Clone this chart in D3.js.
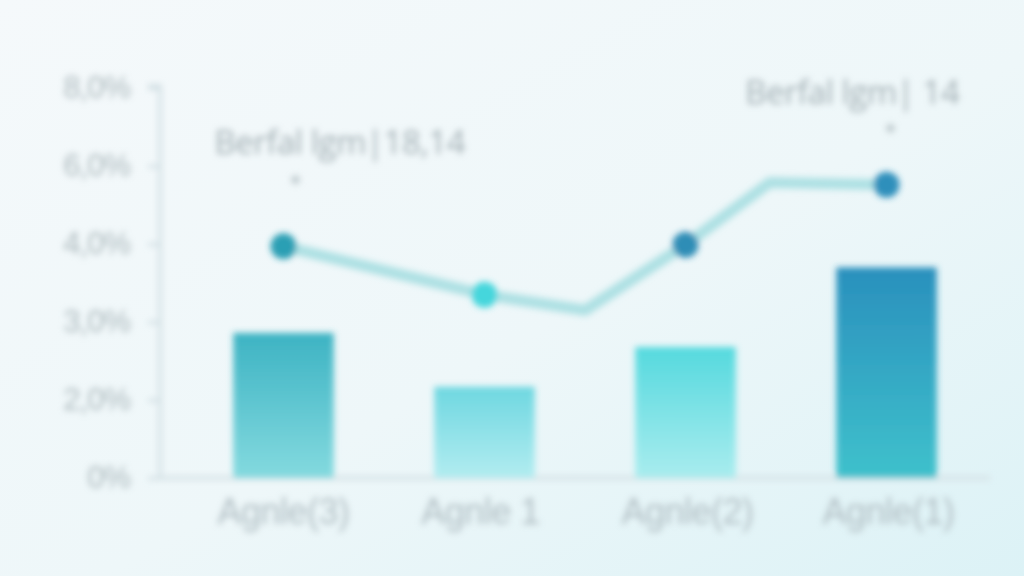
<!DOCTYPE html>
<html>
<head>
<meta charset="utf-8">
<script src="https://cdn.jsdelivr.net/npm/d3@7"></script>
<style>
  html, body { margin: 0; padding: 0; }
  body { width: 1024px; height: 576px; overflow: hidden; }
  svg { display: block; font-family: "Open Sans", "DejaVu Sans", sans-serif; }
</style>
</head>
<body>
<svg id="chart" width="1024" height="576"></svg>
<script>
// Categories and values (values in tick steps)
const categories = ['Agnle(3)', 'Agnle 1', 'Agnle(2)', 'Agnle(1)']
const barValues = [1.86, 1.17, 1.68, 2.7]
const tickLabels = ['0%', '2,0%', '3,0%', '4,0%', '6,0%', '8,0%']

// Line path: position along categories (index) and value
const linePos = [0, 1, 1.5, 2, 2.42, 3]
const lineValues = [2.97, 2.35, 2.15, 2.99, 3.79, 3.76]
const markerIdx = [0, 1, 3, 5]
const markerColors = ['#2a9fb4', '#45d6dc', '#2f8db6', '#2d8fbb']

const barTops = ['#3db3c3', '#6ed7e0', '#55d9de', '#2a90bd']
const barBottoms = ['#84dadf', '#b2ecf0', '#a9ecee', '#3fc1cc']

// annotation label (pos/value of text centre) and small plus marker
const notes = [
  { text: 'Berfal lgm|18,14', pos: 0.28, value: 4.1, plusPos: 0.06, plusValue: 3.72 },
  { text: 'Berfal lgm| 14', pos: 2.83, value: 4.75, plusPos: 3.02, plusValue: 4.38 }
]

const svg = d3.select('#chart')
const W = 1024, H = 576
const margin = { left: 160, right: 34, top: 85, bottom: 98 }

const defs = svg.append('defs')

// background gradient
const bg = defs.append('linearGradient').attr('id', 'bg')
  .attr('x1', 0).attr('y1', 0).attr('x2', 1).attr('y2', 1)
bg.append('stop').attr('offset', 0).attr('stop-color', '#f5f9fb')
bg.append('stop').attr('offset', 0.55).attr('stop-color', '#eef7f9')
bg.append('stop').attr('offset', 1).attr('stop-color', '#dcf2f6')

barTops.forEach((c, i) => {
  const g = defs.append('linearGradient').attr('id', 'bar' + i)
    .attr('x1', 0).attr('y1', 0).attr('x2', 0).attr('y2', 1)
  g.append('stop').attr('offset', 0).attr('stop-color', c)
  g.append('stop').attr('offset', 1).attr('stop-color', barBottoms[i])
})

// the reference is soft / blurred
defs.append('filter').attr('id', 'soft')
  .attr('x', -0.1).attr('y', -0.1).attr('width', 1.2).attr('height', 1.2)
  .append('feGaussianBlur').attr('stdDeviation', 3)

svg.append('rect').attr('width', W).attr('height', H).attr('fill', 'url(#bg)')

const root = svg.append('g').attr('filter', 'url(#soft)')

const x = d3.scaleBand()
  .domain(categories)
  .range([183, 987])
  .paddingInner(0.5)
  .paddingOuter(0.25)

const xPos = d3.scaleLinear()
  .domain([0, 3])
  .range([x(categories[0]) + x.bandwidth() / 2, x(categories[3]) + x.bandwidth() / 2])

const y = d3.scaleLinear()
  .domain([0, 5])
  .range([H - margin.bottom, H - margin.bottom - 5 * 78])

// y axis
const yAxis = d3.axisLeft(y)
  .tickValues(d3.range(tickLabels.length))
  .tickFormat(i => tickLabels[i])
  .tickSize(12)
  .tickPadding(18)

const ya = root.append('g')
  .attr('transform', `translate(${margin.left},0)`)
  .call(yAxis)
ya.select('.domain').attr('stroke', '#d6e2e6').attr('stroke-width', 4)
  .attr('d', `M0,${y(0)}V${y(5) - 2}H-12`)
ya.selectAll('.tick line').attr('stroke', '#cfdde2').attr('stroke-width', 3)
ya.selectAll('.tick text').attr('fill', '#adbabe').attr('font-size', 31)
  .attr('letter-spacing', -1)

// baseline
root.append('line')
  .attr('x1', margin.left).attr('x2', W - margin.right)
  .attr('y1', y(0)).attr('y2', y(0))
  .attr('stroke', '#d6e2e6').attr('stroke-width', 4)

// bars
root.selectAll('rect.bar')
  .data(barValues)
  .join('rect')
  .attr('class', 'bar')
  .attr('x', (d, i) => x(categories[i]))
  .attr('width', x.bandwidth())
  .attr('y', d => y(d))
  .attr('height', d => y(0) - y(d))
  .attr('fill', (d, i) => `url(#bar${i})`)

// x labels
const xa = root.append('g')
  .attr('transform', `translate(0,${y(0)})`)
  .call(d3.axisBottom(x).tickSize(0).tickPadding(20))
xa.select('.domain').remove()
xa.selectAll('text').attr('fill', '#b0bec3').attr('font-size', 36)
  .attr('letter-spacing', -0.5)
  .attr('dx', (d, i) => [0, -4, 2, 2][i])

// line
const lineData = linePos.map((p, i) => [p, lineValues[i]])
root.append('path')
  .datum(lineData)
  .attr('fill', 'none')
  .attr('stroke', '#ade0e3')
  .attr('stroke-width', 11)
  .attr('stroke-linejoin', 'round')
  .attr('d', d3.line().x(d => xPos(d[0])).y(d => y(d[1])))

root.selectAll('circle.pt')
  .data(markerIdx)
  .join('circle')
  .attr('class', 'pt')
  .attr('cx', i => xPos(linePos[i]))
  .attr('cy', i => y(lineValues[i]))
  .attr('r', 13)
  .attr('fill', (i, k) => markerColors[k])

// annotations
const plus = d3.symbol(d3.symbolCross, 45)
notes.forEach(n => {
  root.append('text')
    .attr('x', xPos(n.pos))
    .attr('y', y(n.value) - 4)
    .attr('text-anchor', 'middle')
    .attr('fill', '#a2afb4')
    .attr('font-size', 33)
    .attr('letter-spacing', -0.5)
    .text(n.text)
  root.append('path')
    .attr('d', plus)
    .attr('transform', `translate(${xPos(n.plusPos)},${y(n.plusValue) - 8})`)
    .attr('fill', '#b3c0c4')
})
</script>
</body>
</html>
